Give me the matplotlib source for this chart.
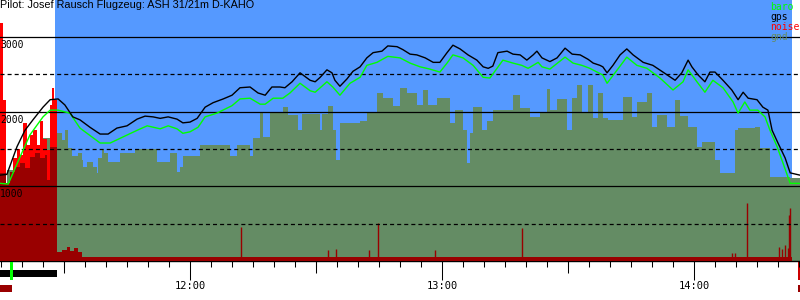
import matplotlib
matplotlib.use("Agg")
import matplotlib.pyplot as plt
import matplotlib.transforms as mtransforms
from matplotlib.patches import Rectangle
from matplotlib.ticker import FuncFormatter, MultipleLocator

plt.rcParams['lines.scale_dashes'] = False

TITLE = "Pilot: Josef Rausch Flugzeug: ASH 31/21m D-KAHO"

# times are minutes after 11:00, heights in metres
gps_t = [14.8, 16.4, 18.8, 20.7, 22.6, 25.0, 26.7, 28.6, 30.2, 32.1, 33.8, 36.2, 38.6, 40.5,
         42.6, 45.0, 47.4, 49.3, 51.2, 52.9, 54.8, 56.9, 58.3, 60.0, 61.7, 63.6, 65.5, 67.9,
         70.0, 71.9, 74.3, 76.2, 77.9, 79.5, 81.4, 82.6, 84.3, 86.2, 88.6, 89.8, 91.0, 92.6,
         93.8, 94.5, 95.7, 97.4, 98.8, 100.5, 102.1, 103.6, 105.7, 107.1, 109.3, 110.7, 112.4,
         114.0, 116.0, 117.9, 119.5, 121.2, 122.6, 124.3, 126.2, 128.3, 129.8, 131.0, 132.1,
         133.3, 135.5, 136.9, 138.6, 140.2, 141.7, 142.6, 143.8, 145.7, 147.4, 149.3, 151.0,
         152.9, 154.8, 156.0, 157.6, 158.3, 159.3, 160.7, 162.4, 164.0, 165.5, 167.9, 170.2,
         172.6, 175.5, 177.1, 178.6, 179.5, 181.0, 182.6, 183.8, 185.0, 186.9, 189.0, 190.5,
         191.7, 192.9, 195.0, 196.4, 197.6, 198.6, 200.0, 201.7, 202.9, 205.2]
gps_alt = [1150, 1160, 1530, 1750, 1890, 2060, 2160, 2170, 2090, 1930, 1890, 1790, 1700, 1700,
           1780, 1810, 1900, 1940, 1930, 1910, 1930, 1900, 1850, 1860, 1910, 2060, 2120, 2170,
           2220, 2320, 2330, 2250, 2220, 2330, 2330, 2320, 2400, 2520, 2420, 2400, 2460, 2560,
           2520, 2420, 2340, 2440, 2540, 2600, 2720, 2790, 2810, 2880, 2870, 2830, 2770,
           2760, 2720, 2660, 2660, 2790, 2890, 2840, 2760, 2690, 2600, 2580, 2610,
           2790, 2810, 2770, 2760, 2690, 2760, 2810, 2720, 2670, 2720, 2850, 2770,
           2760, 2700, 2650, 2620, 2600, 2520, 2620, 2760, 2840, 2760, 2660, 2620,
           2530, 2420, 2520, 2690, 2600, 2490, 2400, 2530, 2530, 2420, 2290, 2160,
           2260, 2180, 2160, 2060, 2020, 1750, 1580, 1380, 1180, 1150]

baro_t = [14.8, 16.7, 17.1, 19.5, 21.9, 25.0, 26.7, 28.6, 31.4, 33.8, 38.6, 41.0, 44.0, 47.4,
          49.8, 52.9, 54.8, 56.9, 58.3, 60.0, 61.9, 63.6, 66.4, 70.0, 71.9, 74.3, 76.7, 77.9,
          79.8, 82.1, 83.8, 86.2, 88.6, 89.8, 92.6, 94.0, 95.7, 98.1, 100.5, 102.1, 104.5,
          107.1, 110.0, 112.4, 114.8, 117.1, 119.5, 121.2, 122.6, 125.0, 127.4, 129.8, 131.4,
          133.1, 134.5, 136.9, 139.0, 140.5, 142.9, 143.8, 145.7, 149.3, 151.2, 153.3, 155.2,
          158.3, 159.3, 161.2, 164.0, 166.4, 168.8, 171.9, 175.0, 177.4, 178.6, 180.7, 182.6,
          184.5, 186.9, 189.3, 190.5, 192.1, 193.3, 195.2, 196.9, 198.1, 199.8, 201.2, 202.9,
          205.2]
baro_alt = [1040, 1030, 1080, 1390, 1690, 1930, 2020, 2020, 1980, 1780, 1580, 1580, 1660, 1750,
            1810, 1770, 1810, 1770, 1710, 1730, 1790, 1930, 1980, 2080, 2170, 2180, 2100, 2100,
            2180, 2180, 2250, 2380, 2280, 2260, 2400, 2330, 2220, 2380, 2460, 2620, 2660,
            2740, 2720, 2650, 2600, 2570, 2530, 2650, 2760, 2720, 2620, 2460, 2450,
            2580, 2690, 2650, 2620, 2580, 2660, 2600, 2570, 2730, 2650, 2620, 2580,
            2490, 2380, 2520, 2730, 2620, 2580, 2450, 2290, 2400, 2560, 2400, 2260,
            2420, 2320, 2130, 1980, 2130, 2020, 2020, 1930, 1750, 1530, 1310, 1040,
            1040]

# terrain height, each value holds until the next time
gnd_t = [14.8, 16.4, 18.8, 21.9, 25.0, 26.7, 29.5, 30.2, 31.0, 31.9, 33.3, 34.3, 34.5, 35.5,
         36.9, 37.9, 38.1, 39.0, 39.5, 40.5, 43.3, 46.9, 52.1, 55.2, 56.9, 57.6, 58.3, 62.4,
         69.5, 71.2, 74.3, 75.0, 76.7, 77.4, 79.0, 82.1, 83.3, 85.7, 86.7, 91.0, 91.4, 92.9,
         94.0, 94.8, 95.7, 100.5, 102.1, 104.5, 106.0, 108.3, 110.0, 111.7, 114.0, 115.5,
         116.7, 118.8, 121.9, 123.1, 125.0, 126.0, 126.7, 127.4, 129.5, 130.7, 132.1, 136.9,
         138.6, 141.0, 143.3, 145.0, 145.7, 147.4, 149.8, 151.0, 152.1, 153.3, 154.8, 156.0,
         157.1, 158.3, 159.5, 163.1, 165.2, 166.4, 168.8, 170.0, 171.2, 173.6, 175.5, 176.7,
         178.6, 180.7, 181.9, 185.0, 186.2, 189.8, 190.5, 194.5, 195.7, 198.1, 202.9, 205.3]
gnd_alt = [1020, 1220, 1290, 1460, 1650, 1710, 1620, 1750, 1510, 1410, 1450, 1350, 1260, 1330,
           1260, 1180, 1380, 1490, 1450, 1330, 1450, 1500, 1330, 1450, 1190, 1260, 1410, 1550,
           1410, 1550, 1410, 1650, 1980, 1660, 1980, 2060, 1950, 1750, 1970, 1750, 1970, 2080,
           1750, 1350, 1850, 1870, 2000, 2250, 2180, 2080, 2320, 2250, 2090, 2290,
           2090, 2180, 1850, 2020, 1750, 1310, 1710, 2060, 1750, 1870, 2020, 2220,
           2050, 1930, 2000, 2300, 2020, 2170, 1750, 2180, 2360, 1980, 2360, 1910,
           2250, 1910, 1890, 2200, 1930, 2130, 2250, 1790, 1950, 1790, 2160, 1940,
           1790, 1530, 1590, 1350, 1180, 1750, 1780, 1790, 1510, 1120, 1110, 1110]

# noise level (dark red), step values
noise_t = [14.8, 16.2, 17.1, 18.3, 19.5, 20.7, 21.9, 23.1, 24.3, 25.5, 26.0, 26.7, 28.3, 29.5,
           30.7, 31.4, 32.4, 33.3, 34.3, 203.3]
noise_lvl = [1180, 1040, 1190, 1260, 1310, 1250, 1390, 1450, 1380, 1420, 1080, 1530, 120, 150,
             190, 140, 170, 120, 55, 55]
# short noise peaks during the flight
spike_t = [72.1, 92.9, 94.8, 102.6, 104.8, 118.3, 139.0, 189.0, 189.7, 192.6, 200.2, 200.9,
           201.6, 202.3, 202.6, 202.9]
spike_lvl = [455, 150, 160, 150, 510, 150, 440, 110, 110, 777, 190, 160, 210, 170, 616, 710]
# loud noise while the engine runs (bright red)
motor_t = [14.8, 15.5, 16.2, 17.9, 18.8, 19.5, 20.2, 21.2, 21.9, 22.6, 23.6, 24.3, 25.0, 26.0,
           26.7, 27.1, 27.6, 28.3]
motor_lvl = [3190, 2160, 0, 1380, 1500, 1420, 1850, 1560, 1690, 1750, 1560, 1880, 1640, 1480,
             2090, 2320, 2160, 0]

sky_span = (27.9, 203.3)
engine_run = (14.76, 28.3)
takeoff_t = 17.4
landing_t = 204.76

XMIN, XMAX = 14.76, 205.24
YMAX = 3495

SKY = '#5599ff'
GND = '#648c64'
DARKRED = '#990000'
MONO = 'DejaVu Sans Mono'

fig = plt.figure(figsize=(8, 3), dpi=100)
ax = fig.add_axes([0, 39 / 300, 1, 261 / 300])
ax.set_xlim(XMIN, XMAX)
ax.set_ylim(0, YMAX)

ax.axvspan(sky_span[0], sky_span[1], color=SKY, lw=0, zorder=0)
ax.fill_between(gnd_t, gnd_alt, step='post', color=GND, lw=0, zorder=1)
ax.fill_between(motor_t, motor_lvl, step='post', color='#ff0000', lw=0, zorder=2)
ax.fill_between(noise_t, noise_lvl, step='post', color=DARKRED, lw=0, zorder=3)
ax.vlines(spike_t, 0, spike_lvl, color=DARKRED, lw=1.0, zorder=3)

for h in (1000, 2000, 3000):
    ax.axhline(h, color='black', lw=0.9, zorder=4)
for h in (500, 1500, 2500):
    ax.axhline(h, color='black', lw=0.9, dashes=(2.9, 2.2), zorder=4)

ax.plot(baro_t, baro_alt, color='#00ff00', lw=1.0, zorder=5)
ax.plot(gps_t, gps_alt, color='black', lw=1.0, zorder=6)

for h in (1000, 2000, 3000):
    ax.annotate(str(h), xy=(0, h), xycoords=ax.get_yaxis_transform(), xytext=(0, -3),
                textcoords='offset pixels', ha='left', va='top', fontsize=7, family=MONO,
                zorder=7)

for s in ('left', 'right', 'top'):
    ax.spines[s].set_visible(False)
ax.spines['bottom'].set_linewidth(1.0)
ax.set_yticks([])

ax.xaxis.set_major_locator(MultipleLocator(60))
ax.xaxis.set_minor_locator(MultipleLocator(5))
ax.xaxis.set_major_formatter(FuncFormatter(lambda v, p: f"{11 + int(v // 60):02d}:{int(v % 60):02d}"))
ax.tick_params(axis='x', which='major', direction='out', length=13.7, width=0.75, pad=0.5,
               labelsize=7.5)
ax.tick_params(axis='x', which='minor', direction='out', length=4.3, width=0.75)
for lab in ax.get_xticklabels():
    lab.set_family(MONO)
# longer ticks on the half hour
half = [30, 90, 150]
ax.vlines(half, -12 / 261, 0, transform=ax.get_xaxis_transform(), color='black', lw=0.75,
          clip_on=False)

# flight event markers below the time axis
ev = mtransforms.blended_transform_factory(ax.transData, fig.transFigure)
ax.add_patch(Rectangle((engine_run[0], 1 - 277 / 300), engine_run[1] - engine_run[0], 7 / 300,
                       transform=ev, color='black', lw=0, clip_on=False))
ax.add_patch(Rectangle((takeoff_t - 0.35, 1 - 280 / 300), 0.7, 18 / 300,
                       transform=ev, color='#00ff00', lw=0, clip_on=False, zorder=5))
ax.add_patch(Rectangle((XMIN, 1 - 292 / 300), takeoff_t + 0.2 - XMIN, 7 / 300,
                       transform=ev, color=DARKRED, lw=0, clip_on=False))
ax.add_patch(Rectangle((landing_t, 1 - 280 / 300), XMAX - landing_t, 18 / 300,
                       transform=ev, color='#cc0000', lw=0, clip_on=False))
ax.add_patch(Rectangle((landing_t, 1 - 292 / 300), XMAX - landing_t, 7 / 300,
                       transform=ev, color=DARKRED, lw=0, clip_on=False))

fig.text(0, 1 - 0.5 / 300, TITLE, ha='left', va='top', fontsize=7.8, family='Liberation Sans')

legend = [("baro", '#00ff00'), ("gps", 'black'), ("noise", '#ff0000'), ("gnd", GND)]
for i, (name, col) in enumerate(legend):
    fig.text(770 / 800, 1 - (7 + 10 * i) / 300, name, ha='left', va='center', fontsize=7,
             family=MONO, color=col)

fig.savefig('out.png', dpi=100)
